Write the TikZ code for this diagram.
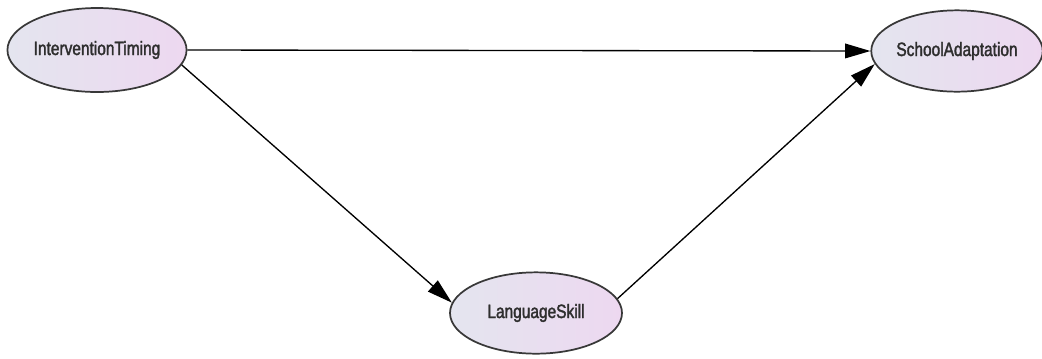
\documentclass[tikz,border=0pt]{standalone}
\usepackage{fontspec}
\setmainfont{Liberation Sans}[FakeStretch=0.8,FakeBold=1.8]
\usetikzlibrary{arrows.meta,shapes.geometric}
\definecolor{fillL}{HTML}{E4E5EF}
\definecolor{fillR}{HTML}{EDD8F0}
\begin{document}
\begin{tikzpicture}[x=0.75pt,y=-0.75pt,
  var/.style={ellipse,draw=black!78,line width=1.3pt,left color=fillL,right color=fillR,
    minimum width=#1*0.75pt,inner sep=0pt,font=\fontsize{14.5}{16}\selectfont,text=black!82},
  link/.style={draw=black,line width=1pt,-{Triangle[length=19pt,width=11pt]},shorten >=0pt}]
\useasboundingbox (0,0) rectangle (1042,358);
\node[var=177,minimum height=63pt] (it) at (97,50) {InterventionTiming};
\node[var=162,minimum height=61pt] (sa) at (957,51) {SchoolAdaptation};
\node[var=172,minimum height=61pt] (ls) at (536,313) {LanguageSkill};
\draw[link] (it.east) -- (sa.west);
\draw[link] (it.-10) -- (ls.173);
\draw[link] (ls.10) -- (sa.189);
\end{tikzpicture}
\end{document}
